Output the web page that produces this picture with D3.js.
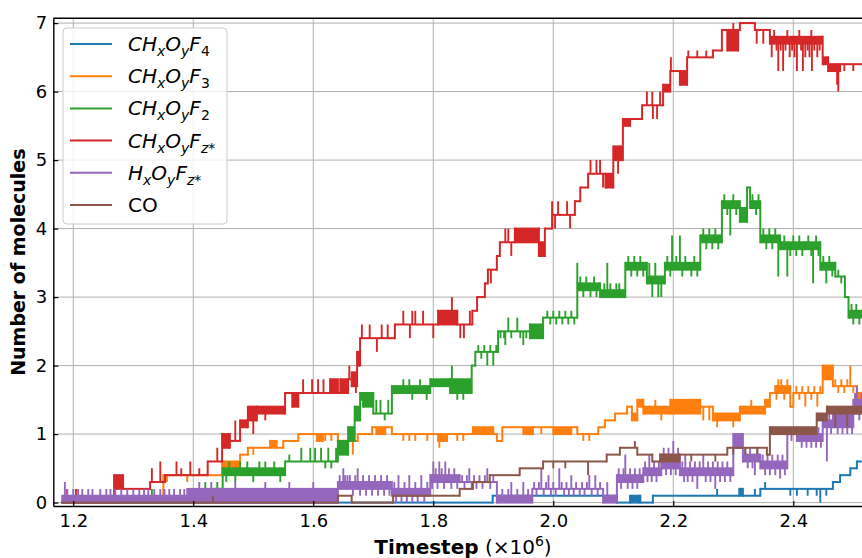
<!DOCTYPE html>
<html>
<head>
<meta charset="utf-8">
<script src="https://cdn.jsdelivr.net/npm/d3@7"></script>
<style>
  body { margin: 0; background: #fff; }
  text { font-family: "DejaVu Sans", sans-serif; }
</style>
</head>
<body>
<svg id="chart" width="862" height="558"></svg>
<script>
// ---- data (timestep in units of 1e6, ensemble-averaged molecule counts) ----
// steps: [start, low, high] — a level held from start to the next entry;
// low < high marks a stretch where the count switches rapidly between the two.
// spikes: [t, value] — single-step excursions away from the current level.
const xTicks = [1.2, 1.4, 1.6, 1.8, 2.0, 2.2, 2.4];
const yTicks = [0, 1, 2, 3, 4, 5, 6, 7];
const runEnd = 2.52;

const seriesLabels = ["CH_xO_yF_4", "CH_xO_yF_3", "CH_xO_yF_2", "CH_xO_yF_{z*}", "H_xO_yF_{z*}", "CO"];
const seriesColors = ["#1f77b4", "#ff7f0e", "#2ca02c", "#d62728", "#9467bd", "#8c564b"];

const blueSteps = [[1.18,0,0],[1.899,0.1,0.1],[2.106,0,0],[2.128,0,0.1],[2.145,0,0],[2.166,0.1,0.1],
  [2.31,0.1,0.2],[2.316,0.1,0.1],[2.345,0.2,0.2],[2.466,0.3,0.3],[2.478,0.4,0.4],[2.495,0.5,0.5],[2.506,0.6,0.6]];
const blueSpikes = [[2.273,0.2],[2.336,0.2],[2.353,0.3],[2.395,0.1],[2.406,0.1],[2.424,0.1],[2.439,0.1],[2.445,0],[2.455,0.1]];

const orangeSteps = [[1.18,0,0],[1.35,0.4,0.4],[1.448,0.5,0.6],[1.478,0.7,0.7],[1.491,0.8,0.8],[1.528,0.8,0.9],
  [1.539,0.8,0.8],[1.55,0.9,0.9],[1.575,1.0,1.0],[1.606,0.9,1.0],[1.616,1.0,1.0],[1.641,0.9,0.9],[1.65,0.8,0.9],
  [1.656,0.9,0.9],[1.674,1.0,1.0],[1.698,1.1,1.1],[1.705,1.0,1.1],[1.72,1.1,1.1],[1.731,1.0,1.0],[1.808,0.9,1.0],
  [1.823,1.0,1.0],[1.866,1.0,1.1],[1.9,1.0,1.0],[1.906,0.9,0.9],[1.915,1.1,1.1],[1.95,1.0,1.1],[1.966,1.1,1.1],
  [2.0,1.0,1.1],[2.03,1.1,1.1],[2.04,1.0,1.0],[2.075,1.1,1.1],[2.086,1.2,1.2],[2.103,1.3,1.3],[2.123,1.4,1.4],
  [2.131,1.2,1.3],[2.14,1.4,1.5],[2.15,1.3,1.4],[2.195,1.3,1.5],[2.245,1.4,1.4],[2.266,1.2,1.3],[2.311,1.3,1.4],
  [2.353,1.4,1.5],[2.361,1.6,1.6],[2.37,1.6,1.7],[2.395,1.4,1.4],[2.4,1.6,1.6],[2.449,1.8,2.0],[2.466,1.7,1.7],
  [2.506,1.5,1.6]];
const orangeSpikes = [[1.356,0.3],[1.39,0.3],[1.5,0.7],[1.62,0.9],[1.63,0.9],[1.666,0.7],[1.75,0.9],[1.76,0.9],
  [1.77,0.9],[1.79,0.9],[1.81,0.8],[1.84,0.9],[1.85,0.9],[1.98,1.0],[2.05,0.9],[2.06,0.9],[2.17,1.5],[2.18,1.2],
  [2.2,1.5],[2.25,1.2],[2.26,1.2],[2.273,1.1],[2.3,1.1],[2.33,1.5],[2.372,1.5],[2.375,1.8],[2.38,1.8],
  [2.385,1.5],[2.39,1.8],[2.405,1.7],[2.41,1.5],[2.415,1.7],[2.42,1.4],[2.425,1.7],[2.43,1.5],[2.435,1.7],
  [2.44,1.4],[2.445,1.7],[2.47,1.8],[2.475,1.6],[2.48,1.8],[2.485,1.6],[2.49,1.8],[2.495,2.0],[2.5,1.6]];

const greenSteps = [[1.18,0,0],[1.428,0.2,0.2],[1.449,0.4,0.5],[1.553,0.6,0.6],[1.641,0.7,0.9],[1.658,0.9,1.1],
  [1.669,1.2,1.4],[1.678,1.5,1.6],[1.683,1.4,1.6],[1.7,1.3,1.3],[1.731,1.6,1.7],[1.795,1.7,1.8],[1.828,1.6,1.8],
  [1.864,2.0,2.0],[1.87,2.2,2.2],[1.908,2.5,2.5],[1.961,2.4,2.6],[1.983,2.7,2.7],[2.04,3.1,3.2],[2.078,3.0,3.1],
  [2.12,3.4,3.5],[2.156,3.2,3.3],[2.186,3.4,3.5],[2.245,3.8,3.9],[2.281,4.3,4.4],[2.311,4.1,4.3],[2.323,4.6,4.6],
  [2.328,4.3,4.4],[2.345,3.8,3.9],[2.378,3.7,3.8],[2.419,3.7,3.8],[2.445,3.4,3.5],[2.47,3.3,3.3],[2.486,3.0,3.0],
  [2.492,2.7,2.8]];
const greenSpikes = [[1.331,0.2],[1.42,0.3],[1.44,0.3],[1.455,0.3],[1.46,0.6],[1.47,0.3],[1.478,0.6],[1.49,0.6],
  [1.5,0.3],[1.51,0.6],[1.52,0.6],[1.535,0.6],[1.545,0.3],[1.56,0.7],[1.58,0.8],[1.595,0.8],[1.603,0.8],[1.613,0.8],
  [1.62,0.5],[1.625,0.8],[1.63,0.5],[1.638,0.8],[1.705,1.5],[1.712,1.5],[1.719,1.2],[1.725,1.5],[1.75,1.8],
  [1.76,1.8],[1.765,1.5],[1.778,1.8],[1.789,1.5],[1.831,2.0],[1.84,1.5],[1.85,1.5],
  [1.875,2.3],[1.88,2.1],[1.885,2.3],[1.89,2.0],[1.895,2.3],[1.9,2.0],[1.905,2.3],
  [1.912,2.4],[1.918,2.4],[1.92,2.3],[1.925,2.7],[1.93,2.4],[1.94,2.7],[1.945,2.4],[1.95,2.3],[1.955,2.4],
  [1.99,2.8],[1.995,2.6],[2.0,2.8],[2.005,2.6],[2.01,2.8],[2.015,2.6],[2.02,2.8],[2.025,2.6],[2.03,2.8],[2.035,2.6],
  [2.04,3.5],[2.045,3.3],[2.05,3.0],[2.055,3.3],[2.062,3.0],[2.068,3.3],[2.072,3.0],
  [2.085,3.2],[2.09,3.5],[2.095,3.2],[2.105,3.2],[2.11,3.2],
  [2.125,3.6],[2.13,3.3],[2.135,3.6],[2.14,3.3],[2.145,3.6],[2.15,3.3],
  [2.16,3.5],[2.165,3.0],[2.17,3.5],[2.175,3.0],[2.18,3.0],
  [2.19,3.6],[2.195,3.3],[2.198,3.9],[2.205,3.6],[2.211,3.9],[2.215,3.3],[2.22,3.6],[2.23,3.3],[2.235,3.6],[2.24,3.3],
  [2.25,4.0],[2.255,3.7],[2.26,4.0],[2.265,3.7],[2.27,4.0],[2.275,3.7],
  [2.285,4.5],[2.29,4.2],[2.295,3.9],[2.3,4.5],[2.305,4.2],
  [2.332,4.5],[2.338,4.2],[2.342,4.5],
  [2.35,4.0],[2.355,3.7],[2.36,4.0],[2.365,3.7],[2.37,4.0],[2.375,3.3],
  [2.385,3.9],[2.39,3.3],[2.395,3.6],[2.4,3.9],[2.405,3.6],[2.41,3.9],[2.415,3.6],
  [2.425,3.9],[2.43,3.6],[2.433,3.2],[2.438,3.9],[2.442,3.6],
  [2.45,3.6],[2.455,3.2],[2.46,3.6],[2.465,3.3],[2.475,3.4],[2.48,3.2],
  [2.497,2.9],[2.5,2.6],[2.505,2.9],[2.51,2.6]];

const redSteps = [[1.18,0,0],[1.268,0.2,0.4],[1.283,0.2,0.2],[1.328,0.3,0.3],[1.353,0.4,0.4],[1.424,0.6,0.6],
  [1.448,0.8,1.0],[1.461,0.9,0.9],[1.478,1.1,1.2],[1.491,1.2,1.4],[1.506,1.3,1.4],[1.553,1.6,1.6],[1.565,1.4,1.6],
  [1.575,1.6,1.6],[1.628,1.6,1.8],[1.641,1.6,1.6],[1.645,1.6,1.8],[1.658,1.8,1.8],[1.664,1.7,1.9],[1.673,2.0,2.2],
  [1.678,2.4,2.4],[1.736,2.6,2.6],[1.808,2.6,2.8],[1.84,2.6,2.6],[1.865,2.8,2.8],[1.873,3.0,3.0],[1.886,3.2,3.2],
  [1.891,3.4,3.4],[1.906,3.6,3.6],[1.911,3.8,3.8],[1.936,3.8,4.0],[1.976,3.6,3.8],[1.986,4.0,4.0],[1.998,4.2,4.2],
  [2.036,4.4,4.4],[2.045,4.6,4.6],[2.058,4.8,4.8],[2.087,4.6,4.8],[2.1,5.0,5.2],[2.116,5.5,5.6],[2.128,5.6,5.6],
  [2.148,5.8,5.8],[2.183,6.0,6.1],[2.195,6.3,6.3],[2.211,6.1,6.3],[2.223,6.5,6.5],[2.266,6.6,6.6],[2.281,6.9,6.9],
  [2.29,6.6,6.9],[2.308,6.9,6.9],[2.311,7.0,7.0],[2.336,6.9,6.9],[2.361,6.7,6.8],[2.449,6.4,6.5],[2.458,6.3,6.4],
  [2.478,6.4,6.4]];
const redSpikes = [[1.1895,0.2],[1.2045,0.2],[1.331,0.5],[1.345,0.6],[1.372,0.6],[1.38,0.5],[1.395,0.6],[1.41,0.5],
  [1.44,0.8],[1.47,1.2],[1.5,1.0],[1.52,1.2],[1.583,1.8],[1.598,1.8],[1.608,1.8],[1.617,1.8],[1.66,2.0],[1.671,1.6],
  [1.681,2.6],[1.694,2.6],[1.706,2.2],[1.714,2.6],[1.724,2.6],[1.75,2.8],[1.761,2.4],[1.765,2.8],[1.77,2.8],
  [1.783,2.8],[1.8,2.4],[1.831,3.0],[1.845,2.4],[1.851,2.4],[1.861,2.8],[1.896,3.2],[1.92,4.0],[1.925,4.0],
  [1.93,3.6],[1.998,4.4],[2.003,4.0],[2.008,4.4],[2.023,4.4],[2.028,4.0],[2.062,5.0],[2.072,5.0],[2.078,5.0],
  [2.083,4.6],[2.108,4.8],[2.156,6.0],[2.165,6.0],[2.166,5.6],[2.173,5.6],[2.178,6.0],[2.196,6.5],[2.225,6.6],
  [2.24,6.6],[2.255,6.6],[2.3,7.0],[2.339,6.7],[2.35,6.7],
  [2.364,6.5],[2.368,6.9],[2.372,6.6],[2.375,6.3],[2.379,6.6],[2.383,6.3],[2.387,6.6],[2.39,6.9],[2.394,6.5],
  [2.398,6.6],[2.402,6.5],[2.406,6.3],[2.41,6.9],[2.413,6.6],[2.416,6.3],[2.42,6.5],[2.424,6.6],[2.427,6.5],
  [2.43,6.9],[2.431,6.3],[2.435,6.6],[2.44,6.5],[2.444,6.6],
  [2.473,6.1],[2.475,6.0],[2.485,6.3],[2.5,6.3]];

const purpleSteps = [[1.18,0,0.1],[1.39,0,0.2],[1.641,0.2,0.3],[1.731,0.1,0.2],[1.795,0.3,0.4],[1.844,0.3,0.3],
  [1.906,0,0.1],[1.965,0.2,0.2],[2.083,0,0.1],[2.106,0.3,0.4],[2.15,0.4,0.5],[2.18,0.5,0.7],[2.211,0.4,0.5],
  [2.3,0.8,1.0],[2.316,0.6,0.7],[2.345,0.5,0.6],[2.39,1.0,1.0],[2.406,0.9,1.0],[2.449,1.1,1.2],[2.466,1.1,1.3],
  [2.5,1.3,1.5]];
const purpleSpikes = [[1.186,0.3],[1.19,0.2],[1.2,0.2],[1.208,0.2],[1.215,0.2],[1.225,0.2],[1.232,0.2],[1.245,0.2],
  [1.255,0.2],[1.262,0.2],[1.27,0.2],[1.28,0.2],[1.29,0.2],[1.3,0.2],[1.31,0.2],[1.318,0.2],[1.325,0.2],[1.335,0.2],
  [1.345,0.2],[1.352,0.2],[1.36,0.2],[1.368,0.2],[1.378,0.2],[1.385,0.2],[1.41,0.3],[1.43,0.3],[1.47,0.3],
  [1.52,0.3],[1.56,0.3],[1.6,0.3],
  [1.644,0.4],[1.65,0.5],[1.653,0.4],[1.657,0.4],[1.661,0.4],[1.666,0.1],[1.67,0.4],[1.674,0.5],[1.678,0.1],
  [1.683,0.4],[1.688,0.1],[1.693,0.4],[1.698,0.1],[1.703,0.4],[1.708,0.1],[1.713,0.4],[1.718,0.1],[1.723,0.4],
  [1.727,0.1],
  [1.735,0.3],[1.738,0.0],[1.742,0.4],[1.747,0.0],[1.752,0.3],[1.756,0.0],[1.76,0.4],[1.765,0.0],[1.77,0.3],
  [1.774,0.0],[1.78,0.4],[1.785,0.0],[1.79,0.3],
  [1.798,0.2],[1.8,0.6],[1.804,0.5],[1.807,0.2],[1.81,0.6],[1.814,0.5],[1.818,0.2],[1.82,0.6],[1.826,0.5],
  [1.83,0.2],[1.835,0.5],[1.84,0.2],
  [1.848,0.4],[1.852,0.2],[1.856,0.4],[1.86,0.5],[1.864,0.2],[1.868,0.4],[1.872,0.2],[1.877,0.4],[1.882,0.2],
  [1.886,0.4],[1.89,0.5],[1.895,0.2],[1.9,0.4],
  [1.915,0.2],[1.925,0.2],[1.93,0.3],[1.94,0.2],[1.95,0.3],[1.958,0.2],
  [1.968,0.3],[1.972,0.1],[1.976,0.3],[1.98,0.5],[1.984,0.1],[1.988,0.3],[1.992,0.4],[1.996,0.1],[2.0,0.3],
  [2.004,0.1],[2.01,0.5],[2.014,0.3],[2.018,0.1],[2.022,0.3],[2.026,0.1],[2.03,0.4],[2.034,0.1],[2.038,0.3],
  [2.044,0.1],[2.048,0.3],[2.052,0.1],[2.056,0.3],[2.06,0.4],[2.064,0.1],[2.07,0.4],[2.074,0.1],[2.078,0.3],
  [2.09,0.3],
  [2.109,0.5],[2.113,0.2],[2.117,0.5],[2.12,0.7],[2.124,0.2],[2.128,0.5],[2.132,0.2],[2.136,0.5],[2.14,0.2],
  [2.144,0.5],[2.148,0.3],
  [2.153,0.6],[2.157,0.3],[2.16,0.7],[2.164,0.3],[2.168,0.6],[2.172,0.3],[2.176,0.6],
  [2.184,0.8],[2.188,0.4],[2.192,0.8],[2.196,0.4],[2.2,0.9],[2.204,0.4],[2.208,0.8],
  [2.215,0.6],[2.218,0.3],[2.22,0.7],[2.224,0.3],[2.228,0.6],[2.232,0.3],[2.236,0.6],[2.24,0.2],[2.244,0.6],
  [2.25,0.7],[2.254,0.3],[2.258,0.6],[2.262,0.3],[2.266,0.6],[2.27,0.2],[2.274,0.6],[2.278,0.3],[2.282,0.6],
  [2.286,0.3],[2.29,0.6],[2.295,0.3],
  [2.32,0.8],[2.324,0.5],[2.328,0.8],[2.332,0.5],[2.336,0.4],[2.34,0.8],
  [2.349,0.7],[2.353,0.4],[2.357,0.7],[2.361,0.4],[2.365,0.7],[2.37,0.4],[2.374,0.7],[2.378,0.35],[2.382,0.7],
  [2.386,0.4],
  [2.393,1.1],[2.397,0.9],[2.401,1.1],
  [2.41,1.1],[2.414,0.8],[2.418,1.1],[2.422,0.8],[2.426,1.1],[2.43,0.8],[2.434,1.1],[2.438,0.8],[2.442,1.1],
  [2.446,0.8],
  [2.452,1.3],[2.456,0.6],[2.46,1.3],[2.463,1.0],
  [2.47,1.4],[2.474,1.0],[2.478,1.4],[2.482,1.0],[2.486,1.4],[2.49,1.0],[2.494,1.4],[2.498,1.0],
  [2.503,1.6],[2.506,1.7],[2.51,1.2],[2.514,1.6]];

const brownSteps = [[1.18,0,0],[1.641,0.1,0.1],[1.664,0,0],[1.733,0.1,0.1],[1.844,0.2,0.2],[1.866,0.3,0.3],
  [1.894,0.4,0.4],[1.944,0.5,0.5],[1.983,0.6,0.6],[2.089,0.7,0.7],[2.111,0.8,0.8],[2.14,0.7,0.7],[2.165,0.6,0.6],
  [2.178,0.6,0.7],[2.21,0.7,0.7],[2.29,0.8,0.8],[2.356,0.7,0.7],[2.361,1.0,1.1],[2.439,1.2,1.3],[2.456,1.3,1.4]];
const brownSpikes = [[1.433,0.1],[2.0,0.5],[2.02,0.5],[2.058,0.4],[2.136,0.9],[2.23,0.6],[2.27,0.6],[2.3,0.7],
  [2.32,0.7],[2.34,0.7],[2.38,1.0],[2.42,1.0],[2.47,1.1],[2.49,1.1]];

const seriesSteps = [blueSteps, orangeSteps, greenSteps, redSteps, purpleSteps, brownSteps];
const seriesSpikes = [blueSpikes, orangeSpikes, greenSpikes, redSpikes, purpleSpikes, brownSpikes];

// ---- layout ----
const svg = d3.select("#chart");
const plot = { left: 53.3, right: 865.3, top: 18.3, bottom: 506 };
const x = d3.scaleLinear().domain([1.1667, 2.52]).range([plot.left, plot.right]);
const y = d3.scaleLinear().domain([-0.05, 7.07]).range([plot.bottom, plot.top]);

svg.append("defs").append("clipPath").attr("id", "plot-clip")
  .append("rect").attr("x", plot.left).attr("y", plot.top)
  .attr("width", plot.right - plot.left).attr("height", plot.bottom - plot.top);

// grid
const grid = svg.append("g").attr("stroke", "#b0b0b0").attr("stroke-width", 1);
grid.selectAll(null).data(xTicks).join("line")
  .attr("x1", d => x(d)).attr("x2", d => x(d)).attr("y1", plot.top).attr("y2", plot.bottom);
grid.selectAll(null).data(yTicks).join("line")
  .attr("x1", plot.left).attr("x2", plot.right).attr("y1", d => y(d)).attr("y2", d => y(d));

// series: held levels as bars of line thickness, risers at each change, spikes on top
const lw = 2;
const marks = svg.append("g").attr("clip-path", "url(#plot-clip)");
seriesSteps.forEach((steps, k) => {
  const color = seriesColors[k];
  const g = marks.append("g");
  const segs = steps.map((s, i) => ({
    x0: s[0], x1: i + 1 < steps.length ? steps[i + 1][0] : runEnd, lo: s[1], hi: s[2]
  }));
  g.selectAll(null).data(segs).join("rect")
    .attr("x", d => x(d.x0)).attr("width", d => Math.max(0, x(d.x1) - x(d.x0)))
    .attr("y", d => y(d.hi) - lw / 2).attr("height", d => y(d.lo) - y(d.hi) + lw)
    .attr("fill", color);
  const risers = segs.slice(1).map((d, i) => ({ t: d.x0, a: segs[i], b: d }));
  g.selectAll(null).data(risers).join("line")
    .attr("x1", d => x(d.t)).attr("x2", d => x(d.t))
    .attr("y1", d => y(Math.min(d.a.lo, d.b.lo)) + lw / 2)
    .attr("y2", d => y(Math.max(d.a.hi, d.b.hi)) - lw / 2)
    .attr("stroke", color).attr("stroke-width", lw);
  const segAt = t => segs[Math.max(0, d3.bisector(s => s.x0).right(segs, t) - 1)];
  g.selectAll(null).data(seriesSpikes[k]).join("line")
    .attr("x1", d => x(d[0])).attr("x2", d => x(d[0]))
    .attr("y1", d => { const s = segAt(d[0]); return y(d[1] > s.hi ? s.hi : s.lo); })
    .attr("y2", d => y(d[1]))
    .attr("stroke", color).attr("stroke-width", 1.9);
});

// axes (inward ticks)
const yAxis = svg.append("g").attr("transform", `translate(${plot.left},0)`)
  .call(d3.axisLeft(y).tickValues(yTicks).tickFormat(d3.format("d")).tickSize(-5).tickSizeOuter(0).tickPadding(6));
const xAxis = svg.append("g").attr("transform", `translate(0,${plot.bottom})`)
  .call(d3.axisBottom(x).tickValues(xTicks).tickFormat(d3.format(".1f")).tickSize(-5).tickSizeOuter(0).tickPadding(8));
[yAxis, xAxis].forEach(a => {
  a.selectAll("text").attr("font-family", "DejaVu Sans").attr("font-size", 18).attr("fill", "#000");
  a.selectAll("line").attr("stroke", "#000").attr("stroke-width", 1.2);
  a.select(".domain").attr("stroke", "#000").attr("stroke-width", 1.4);
});
// top frame
svg.append("line").attr("x1", plot.left).attr("x2", plot.right)
  .attr("y1", plot.top).attr("y2", plot.top).attr("stroke", "#000").attr("stroke-width", 1.4);

// axis titles
const xt = svg.append("text").attr("x", 463).attr("y", 554)
  .attr("text-anchor", "middle").attr("font-size", 20);
xt.append("tspan").attr("font-weight", "bold").text("Timestep");
xt.append("tspan").text(" (×10");
xt.append("tspan").attr("font-size", 14).attr("dy", -8).text("6");
xt.append("tspan").attr("dy", 8).text(")");

svg.append("text")
  .attr("transform", `translate(25,${(plot.top + plot.bottom) / 2}) rotate(-90)`)
  .attr("text-anchor", "middle").attr("font-size", 19).attr("font-weight", "bold")
  .text("Number of molecules");

// legend
const legend = svg.append("g");
legend.append("rect").attr("x", 63).attr("y", 28).attr("width", 164).attr("height", 196)
  .attr("rx", 4).attr("fill", "#fff").attr("fill-opacity", 0.8)
  .attr("stroke", "#cccccc").attr("stroke-width", 1);
seriesLabels.forEach((label, i) => {
  const cy = 44 + i * 32.2;
  legend.append("line").attr("x1", 70).attr("x2", 112).attr("y1", cy).attr("y2", cy)
    .attr("stroke", seriesColors[i]).attr("stroke-width", 2);
  const t = legend.append("text").attr("x", 128).attr("y", cy + 7).attr("font-size", 20);
  if (!label.includes("_")) { t.text(label); return; }
  const re = /_\{([^}]*)\}|_(.)|([^_]+)/g;
  let m, shift = 0;
  while ((m = re.exec(label)) !== null) {
    const sub = m[1] !== undefined ? m[1] : m[2];
    if (sub !== undefined) {
      for (const ch of sub) {
        const upright = /[0-9*]/.test(ch);
        t.append("tspan").attr("dy", 5 - shift).attr("font-size", 14)
          .attr("font-style", upright ? "normal" : "italic").text(ch);
        shift = 5;
      }
    } else {
      t.append("tspan").attr("dy", -shift).attr("font-style", "italic").text(m[3]);
      shift = 0;
    }
  }
});
</script>
</body>
</html>
